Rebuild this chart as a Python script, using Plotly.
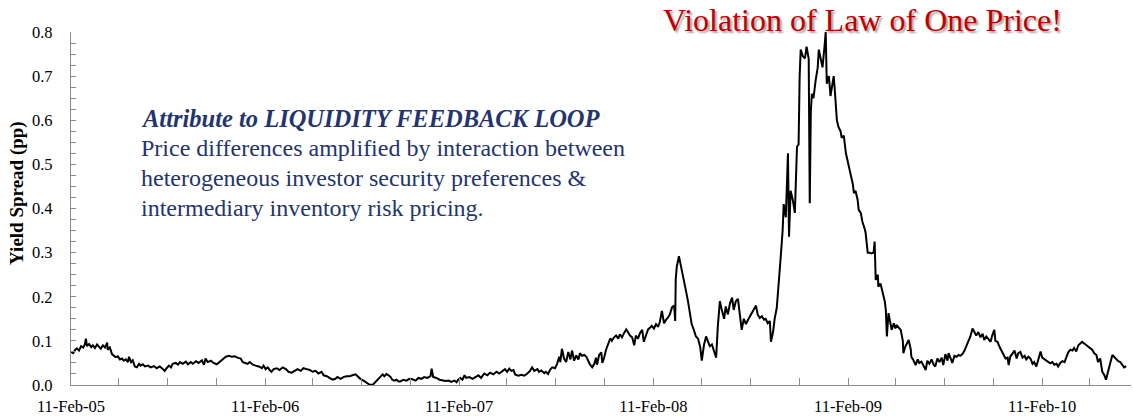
import pandas as pd
import plotly.graph_objects as go

# ---- data ----
start_date = "2005-02-11"
day_offset = [
    0, 4, 8, 11, 15, 19, 23, 26, 28, 30, 34, 38, 41, 45, 49, 53, 56, 60, 64, 68, 69, 73, 77, 81, 84, 88, 92, 96, 99,
    103, 107, 109, 113, 116, 120, 124, 128, 131, 135, 139, 145, 150, 156, 161, 167, 173, 176, 180, 184, 188, 191, 197,
    201, 205, 210, 216, 220, 225, 229, 235, 240, 246, 250, 253, 257, 263, 268, 274, 280, 285, 291, 297, 302, 308, 313,
    319, 323, 327, 332, 336, 342, 347, 353, 359, 362, 366, 370, 374, 377, 381, 387, 392, 398, 404, 409, 415, 420, 426,
    432, 437, 443, 449, 454, 460, 465, 471, 475, 481, 486, 492, 497, 501, 507, 512, 518, 524, 529, 535, 539, 544, 550,
    556, 561, 567, 572, 576, 582, 586, 589, 593, 597, 601, 604, 608, 612, 616,
    619, 625, 631, 636, 642, 648, 653, 659, 664, 670, 676, 678, 681, 687, 693, 698, 704, 710, 715, 721, 725, 728, 732,
    736, 740, 743, 749, 755, 760, 766, 771, 777, 783, 788, 794, 800, 805, 811, 816, 820, 824, 828, 832, 835, 841, 847,
    852, 858, 863, 867, 871, 877, 880, 884, 890, 893, 897, 901, 905, 910, 914, 918, 920, 923, 927, 931, 935, 939, 942,
    946, 950, 954, 957, 961, 965, 969, 972, 976, 980, 984, 987, 989, 993, 997, 999, 1002, 1006, 1010, 1014, 1017, 1021,
    1025, 1029, 1032, 1036, 1040, 1044, 1047, 1051, 1055, 1059, 1062, 1066, 1070, 1074, 1077, 1081, 1085, 1089, 1092,
    1096, 1100, 1104, 1107, 1111, 1115, 1119, 1122, 1126, 1130, 1134, 1136, 1137, 1139, 1143, 1147, 1151, 1152, 1156,
    1160, 1164, 1167, 1171, 1175, 1179, 1183, 1186, 1190, 1194, 1198, 1201, 1205, 1209, 1213, 1216, 1220, 1224, 1228,
    1231, 1235, 1239, 1243, 1246, 1250, 1254, 1258, 1261, 1265, 1269, 1273, 1276, 1280, 1284, 1288, 1291, 1295, 1299,
    1303, 1306, 1310, 1314, 1316, 1320, 1323, 1327, 1331, 1335, 1338, 1340, 1344, 1348, 1350, 1353, 1357, 1361, 1365,
    1368, 1370, 1372, 1376, 1380, 1383, 1387, 1389, 1391, 1393, 1396, 1400, 1404, 1406, 1410, 1413, 1417, 1419, 1421,
    1425, 1428, 1432, 1434, 1436, 1440, 1443, 1447, 1449, 1453, 1457, 1460, 1464, 1466, 1470, 1472, 1475, 1479, 1481,
    1485, 1488, 1492, 1494, 1498, 1502, 1505, 1509, 1511, 1513, 1517, 1518, 1522, 1526, 1530, 1532, 1534, 1537, 1541,
    1543, 1547, 1550, 1552, 1556, 1560, 1564, 1565, 1569, 1573, 1575, 1579, 1580, 1584, 1588, 1592, 1595, 1599, 1603,
    1607, 1610, 1614, 1618, 1622, 1625, 1629, 1633, 1637, 1640, 1644, 1648, 1650, 1654, 1657, 1661, 1665, 1669, 1672,
    1676, 1680, 1684, 1687, 1691, 1695, 1699, 1702, 1706, 1710, 1714, 1717, 1721, 1725, 1729, 1732, 1736, 1738, 1742,
    1746, 1749, 1753, 1757, 1761, 1763, 1766, 1770, 1774, 1778, 1781, 1785, 1789, 1793, 1796, 1800, 1804, 1808, 1811,
    1815, 1819, 1823, 1826, 1830, 1834, 1838, 1841, 1845, 1849, 1853, 1856, 1860, 1864, 1868, 1871, 1875, 1879, 1883,
    1886, 1890, 1894, 1898, 1901, 1905, 1909, 1913, 1916, 1920, 1924, 1928, 1931, 1935, 1939, 1943, 1946, 1950, 1954,
    1958, 1961, 1965, 1969, 1973, 1976, 1980, 1984,
]
spread = [
    0.075, 0.072, 0.080, 0.083, 0.078, 0.088, 0.085, 0.092, 0.105, 0.088, 0.093, 0.086, 0.090, 0.084, 0.092, 0.086,
    0.082, 0.090, 0.085, 0.096, 0.080, 0.085, 0.070, 0.066, 0.063, 0.065, 0.058, 0.060, 0.055, 0.058, 0.052, 0.064,
    0.052, 0.056, 0.042, 0.040, 0.048, 0.044, 0.047, 0.042, 0.044, 0.040, 0.043, 0.038, 0.042, 0.036, 0.032, 0.038,
    0.044, 0.040, 0.048, 0.050, 0.046, 0.052, 0.048, 0.053, 0.047, 0.052, 0.048, 0.054, 0.050, 0.056, 0.046, 0.060,
    0.052, 0.055, 0.050, 0.047, 0.054, 0.058, 0.064, 0.066, 0.064, 0.065, 0.062, 0.060, 0.052, 0.050, 0.048, 0.052,
    0.046, 0.044, 0.042, 0.038, 0.044, 0.036, 0.040, 0.033, 0.030, 0.036, 0.038, 0.034, 0.040, 0.036, 0.030, 0.028,
    0.032, 0.036, 0.032, 0.038, 0.036, 0.034, 0.030, 0.032, 0.026, 0.030, 0.022, 0.020, 0.016, 0.012, 0.014, 0.018,
    0.014, 0.018, 0.020, 0.020, 0.022, 0.024, 0.020, 0.014, 0.010, 0.004, 0.001, 0.000, 0.006, 0.012, 0.020, 0.024,
    0.020, 0.025, 0.022, 0.018, 0.012, 0.010, 0.012, 0.008,
    0.008, 0.012, 0.010, 0.014, 0.013, 0.010, 0.016, 0.014, 0.018, 0.016, 0.020, 0.037, 0.018, 0.016, 0.012, 0.010,
    0.009, 0.010, 0.007, 0.010, 0.006, 0.012, 0.016, 0.012, 0.022, 0.016, 0.018, 0.014, 0.018, 0.022, 0.016, 0.026,
    0.022, 0.028, 0.024, 0.030, 0.026, 0.032, 0.036, 0.030, 0.037, 0.032, 0.034, 0.024, 0.021, 0.023, 0.021, 0.026,
    0.032, 0.040, 0.032, 0.036, 0.030, 0.033, 0.027, 0.030, 0.025, 0.035, 0.040, 0.038, 0.048, 0.064, 0.052, 0.082,
    0.060, 0.052, 0.075, 0.058, 0.078, 0.055, 0.067, 0.058, 0.072, 0.066, 0.068, 0.064, 0.056, 0.046, 0.040, 0.048,
    0.062, 0.046, 0.068, 0.074, 0.050, 0.060, 0.080, 0.095, 0.106, 0.100, 0.108, 0.112, 0.105, 0.115, 0.108, 0.118,
    0.126, 0.120, 0.112, 0.108, 0.090, 0.112, 0.105, 0.118, 0.125, 0.098, 0.115, 0.126, 0.130, 0.134, 0.128, 0.138,
    0.132, 0.142, 0.168, 0.140, 0.148, 0.152, 0.160, 0.176, 0.180, 0.145, 0.240, 0.268, 0.292, 0.270, 0.250, 0.238,
    0.215, 0.190, 0.160, 0.138, 0.125, 0.110, 0.105, 0.086, 0.055, 0.090, 0.110, 0.098, 0.088, 0.092, 0.078, 0.062,
    0.130, 0.190, 0.168, 0.150, 0.178, 0.160, 0.185, 0.198, 0.170, 0.190, 0.195, 0.160, 0.125, 0.150, 0.138, 0.148,
    0.155, 0.162, 0.170, 0.180, 0.160, 0.152, 0.156, 0.148, 0.150, 0.140, 0.145, 0.098, 0.120, 0.150, 0.175, 0.230,
    0.300, 0.350, 0.410, 0.380, 0.525, 0.336, 0.440, 0.420, 0.390, 0.540, 0.545, 0.700, 0.760, 0.745, 0.740, 0.767,
    0.740, 0.412, 0.620, 0.660, 0.650, 0.690, 0.720, 0.760, 0.740, 0.720, 0.770, 0.800, 0.683, 0.700, 0.655, 0.690,
    0.700, 0.670, 0.600, 0.585, 0.575, 0.560, 0.565, 0.525, 0.510, 0.490, 0.480, 0.455, 0.435, 0.440, 0.420, 0.397,
    0.390, 0.370, 0.355, 0.345, 0.300, 0.300, 0.298, 0.300, 0.325, 0.238, 0.250, 0.223, 0.230, 0.210, 0.190, 0.170,
    0.110, 0.163, 0.140, 0.125, 0.140, 0.128, 0.136, 0.130, 0.125, 0.100, 0.072, 0.088, 0.100, 0.102, 0.080, 0.064,
    0.056, 0.045, 0.058, 0.050, 0.053, 0.044, 0.034, 0.055, 0.048, 0.058, 0.046, 0.042, 0.060, 0.052, 0.062, 0.045,
    0.070, 0.055, 0.072, 0.060, 0.050, 0.066, 0.064, 0.068, 0.066, 0.070, 0.078, 0.090, 0.098, 0.110, 0.128, 0.118,
    0.112, 0.120, 0.108, 0.116, 0.102, 0.110, 0.104, 0.098, 0.112, 0.125, 0.100, 0.098, 0.086, 0.078, 0.070, 0.060,
    0.062, 0.045, 0.064, 0.070, 0.078, 0.060, 0.072, 0.075, 0.062, 0.066, 0.058, 0.064, 0.060, 0.048, 0.052, 0.042,
    0.060, 0.076, 0.062, 0.058, 0.055, 0.052, 0.049, 0.052, 0.046, 0.048, 0.042, 0.050, 0.054, 0.052, 0.060, 0.074,
    0.080, 0.078, 0.084, 0.076, 0.090, 0.096, 0.098, 0.094, 0.090, 0.087, 0.082, 0.080, 0.072, 0.068, 0.052, 0.060,
    0.030, 0.022, 0.012, 0.035, 0.050, 0.068, 0.064, 0.060, 0.054, 0.052, 0.046, 0.040, 0.043,
]
axis_end = "2010-07-28"

headline = "Violation of Law of One Price!"
box_title = "Attribute to LIQUIDITY FEEDBACK LOOP"
box_lines = [
    "Price differences amplified by interaction between",
    "heterogeneous investor security preferences &",
    "intermediary inventory risk pricing.",
]
y_title = "Yield Spread (pp)"

# ---- figure ----
dates = pd.Timestamp(start_date) + pd.to_timedelta(day_offset, unit="D")

SERIF = "Liberation Serif"
NAVY = "#24346f"
GRAY = "#8c8c8c"

fig = go.Figure()
fig.add_trace(go.Scatter(x=dates, y=spread, mode="lines",
                         line=dict(color="black", width=2), showlegend=False,
                         hoverinfo="skip"))

fig.update_layout(
    width=1133, height=417, autosize=False,
    margin=dict(l=71, r=2, t=32, b=32),
    paper_bgcolor="white", plot_bgcolor="white",
    font=dict(family=SERIF, size=16, color="black"),
    xaxis=dict(
        type="date", range=[start_date, axis_end],
        tick0=start_date, dtick="M12", tickformat="%d-%b-%y",
        ticks="inside", ticklen=7, tickcolor=GRAY, tickwidth=1,
        showline=True, linecolor=GRAY, linewidth=1.3,
        showgrid=False, zeroline=False,
        ticklabelstandoff=6,
        tickfont=dict(family=SERIF, size=16.5, color="black"),
        minor=dict(dtick="M3", tick0=start_date, ticks="inside",
                   ticklen=7, tickcolor=GRAY, tickwidth=1, showgrid=False),
    ),
    yaxis=dict(
        range=[0, 0.8], dtick=0.1, tickformat=".1f",
        ticks="inside", ticklen=5, tickcolor=GRAY, tickwidth=1,
        showline=True, linecolor=GRAY, linewidth=1.3,
        showgrid=False, zeroline=False,
        ticklabelstandoff=14,
        tickfont=dict(family=SERIF, size=16.5, color="black"),
        minor=dict(dtick=0.025, ticks="inside", ticklen=5,
                   tickcolor=GRAY, tickwidth=1, showgrid=False),
    ),
)

ann = []
ann.append(dict(text="<b>" + y_title + "</b>", x=-0.051, y=0.544, xref="paper", yref="paper",
                textangle=-90, showarrow=False, xanchor="center", yanchor="middle",
                font=dict(family=SERIF, size=19, color="black")))
ann.append(dict(text=headline, x=0.747, y=1.034, xref="paper", yref="paper",
                showarrow=False, xanchor="center", yanchor="middle",
                font=dict(family=SERIF, size=32, color="#c00000",
                          shadow="2px 2px 2px #a0a0a0")))
ann.append(dict(text="<b><i>" + box_title + "</i></b>", x=0.064, y=0.756, xref="paper", yref="paper",
                showarrow=False, xanchor="left", yanchor="middle",
                font=dict(family=SERIF, size=24.5, color=NAVY)))
for i, line in enumerate(box_lines):
    ann.append(dict(text=line, x=0.064, y=0.672 - i * 0.085, xref="paper", yref="paper",
                    showarrow=False, xanchor="left", yanchor="middle",
                    font=dict(family=SERIF, size=24, color=NAVY)))
fig.update_layout(annotations=ann)

fig.write_html("out.html", config={"displayModeBar": False},
               post_script="document.body.style.margin='0';document.body.style.overflow='hidden';")
